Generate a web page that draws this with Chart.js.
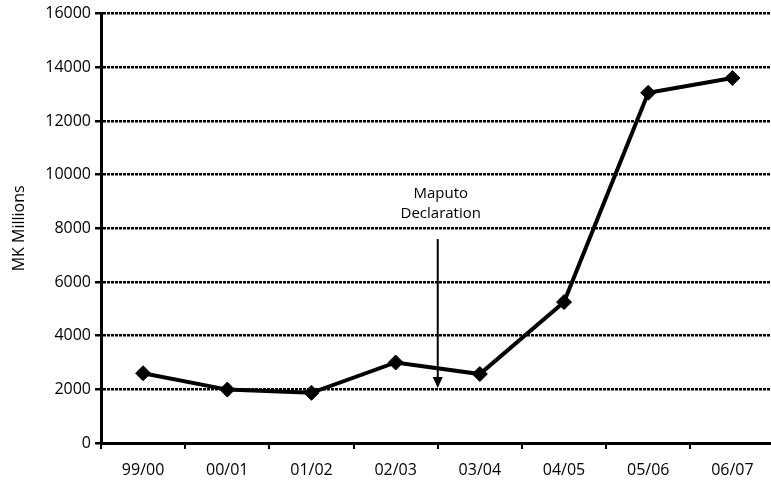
<!DOCTYPE html>
<html>
<head>
<meta charset="utf-8">
<script src="https://cdn.jsdelivr.net/npm/chart.js@4/dist/chart.umd.min.js"></script>
<style>
  html, body { margin: 0; padding: 0; background: #fff; overflow: hidden; }
  #wrap { width: 771px; height: 483px; overflow: hidden; }
</style>
</head>
<body>
<div id="wrap"><canvas id="myChart" width="783" height="483"></canvas></div>
<script>
// dades del grafic
const anys = ["99/00", "00/01", "01/02", "02/03", "03/04", "04/05", "05/06", "06/07"];
const valors = [2600, 1990, 1870, 3000, 2570, 5250, 13050, 13600];
const yTicks = [0, 2000, 4000, 6000, 8000, 10000, 12000, 14000, 16000];

// anotacio "Maputo Declaration" (posicio en unitats de dades)
const fletxaX = 3.5;
const fletxaDalt = 7600;
const fletxaPunta = 2050;
const textFletxa = ["Maputo", "Declaration"];
const textY = [9300, 8550];

const pluginFletxa = {
  id: "fletxa",
  afterDatasetsDraw(chart) {
    const ctx = chart.ctx;
    const x = chart.scales.x.getPixelForValue(fletxaX);
    const y1 = chart.scales.y.getPixelForValue(fletxaDalt);
    const y2 = chart.scales.y.getPixelForValue(fletxaPunta);
    ctx.save();
    ctx.strokeStyle = "#000";
    ctx.fillStyle = "#000";
    ctx.lineWidth = 2;
    ctx.beginPath();
    ctx.moveTo(x, y1);
    ctx.lineTo(x, y2 - 9);
    ctx.stroke();
    ctx.beginPath();
    ctx.moveTo(x - 5, y2 - 11);
    ctx.lineTo(x + 5, y2 - 11);
    ctx.lineTo(x, y2);
    ctx.closePath();
    ctx.fill();
    ctx.font = "15px 'Open Sans'";
    ctx.textAlign = "center";
    ctx.textBaseline = "middle";
    textFletxa.forEach((t, i) => {
      ctx.fillText(t, x + 3, chart.scales.y.getPixelForValue(textY[i]));
    });
    ctx.restore();
  }
};

const fontTicks = { family: "'Open Sans'", size: 16 };

const config = {
  type: "line",
  data: {
    labels: anys,
    datasets: [
      {
        data: valors,
        borderColor: "#000",
        backgroundColor: "#000",
        borderWidth: 4,
        pointStyle: "rectRot",
        pointRadius: 7.5,
        pointBorderWidth: 1,
        tension: 0,
      },
    ],
  },
  options: {
    responsive: false,
    animation: false,
    layout: { padding: { top: 13, right: 0, left: 0, bottom: 0 } },
    plugins: {
      legend: { display: false },
      tooltip: { enabled: false },
    },
    scales: {
      x: {
        offset: true,
        grid: {
          offset: true,
          drawOnChartArea: false,
          drawTicks: true,
          tickLength: 6,
          color: "#000",
          lineWidth: 2,
        },
        border: { display: true, color: "#000", width: 3 },
        ticks: { padding: 12, color: "#000", font: fontTicks },
        afterFit(scale) { scale.height = 40; },
      },
      y: {
        min: 0,
        max: 16000,
        afterBuildTicks(scale) { scale.ticks = yTicks.map((v) => ({ value: v })); },
        grid: {
          color: "#000",
          lineWidth: 2.5,
          tickLength: 6,
          tickBorderDash: [],
        },
        border: { display: true, color: "#000", width: 3, dash: [3, 1] },
        ticks: {
          padding: 4,
          color: "#000",
          font: fontTicks,
          callback: (v) => String(v),
        },
        title: {
          display: true,
          text: "MK Millions",
          font: { family: "'Open Sans'", size: 16 },
          color: "#000",
          padding: { top: 10, bottom: 0 },
        },
        afterFit(scale) { scale.width = 101; },
      },
    },
  },
  plugins: [pluginFletxa],
};

new Chart(document.getElementById("myChart"), config);
</script>
</body>
</html>
